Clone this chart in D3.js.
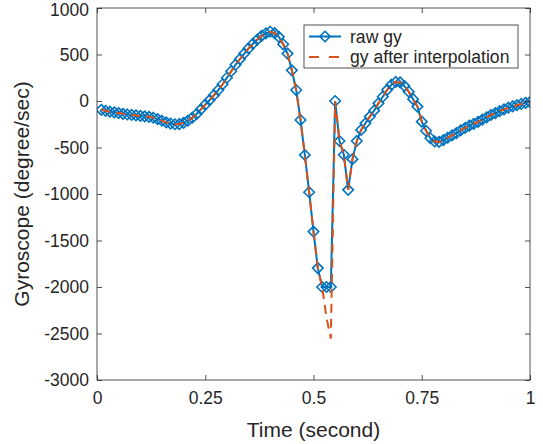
<!DOCTYPE html>
<html>
<head>
<meta charset="utf-8">
<script src="https://cdn.jsdelivr.net/npm/d3@7"></script>
<style>
  body { margin: 0; background: #fff; }
  text { font-family: "Liberation Sans", Arial, Helvetica, sans-serif; fill: #262626; }
</style>
</head>
<body>
<svg id="chart" width="543" height="444"></svg>
<script>
// Time stamps (second), 100 Hz samples
const time = [
  0.01, 0.02, 0.03, 0.04, 0.05, 0.06, 0.07, 0.08, 0.09, 0.10,
  0.11, 0.12, 0.13, 0.14, 0.15, 0.16, 0.17, 0.18, 0.19, 0.20,
  0.21, 0.22, 0.23, 0.24, 0.25, 0.26, 0.27, 0.28, 0.29, 0.30,
  0.31, 0.32, 0.33, 0.34, 0.35, 0.36, 0.37, 0.38, 0.39, 0.40,
  0.41, 0.42, 0.43, 0.44, 0.45, 0.46, 0.47, 0.48, 0.49, 0.50,
  0.51, 0.52, 0.53, 0.54, 0.55, 0.56, 0.57, 0.58, 0.59, 0.60,
  0.61, 0.62, 0.63, 0.64, 0.65, 0.66, 0.67, 0.68, 0.69, 0.70,
  0.71, 0.72, 0.73, 0.74, 0.75, 0.76, 0.77, 0.78, 0.79, 0.80,
  0.81, 0.82, 0.83, 0.84, 0.85, 0.86, 0.87, 0.88, 0.89, 0.90,
  0.91, 0.92, 0.93, 0.94, 0.95, 0.96, 0.97, 0.98, 0.99, 1.00
];

// raw gyroscope y (degree/sec), saturated at -2000
const rawGy = [
  -95, -105, -115, -122, -130, -138, -145, -150, -155, -160,
  -165, -170, -180, -195, -212, -230, -242, -250, -248, -235,
  -212, -180, -140, -90, -40, 10, 62, 118, 180, 250,
  320, 390, 450, 510, 565, 615, 660, 700, 728, 745,
  730, 690, 610, 510, 330, 118, -204, -580, -981, -1404,
  -1797, -2000, -2000, -2000, 0, -430, -578, -955, -625, -430,
  -311, -240, -168, -104, -25, 46, 120, 175, 205, 200,
  160, 100, 20, -60, -222, -320, -400, -435, -440, -420,
  -395, -370, -345, -315, -290, -265, -245, -225, -200, -175,
  -150, -130, -110, -90, -72, -58, -45, -32, -20, -12
];

// gyroscope y after interpolation of the saturated part
const interpGy = [
  -95, -105, -115, -122, -130, -138, -145, -150, -155, -160,
  -165, -170, -180, -195, -212, -230, -242, -250, -248, -235,
  -212, -180, -140, -90, -40, 10, 62, 118, 180, 250,
  320, 390, 450, 510, 565, 615, 660, 700, 728, 745,
  730, 690, 610, 510, 330, 118, -204, -580, -981, -1404,
  -1797, -2000, -2330, -2555, 0, -430, -578, -955, -625, -430,
  -311, -240, -168, -104, -25, 46, 120, 175, 205, 200,
  160, 100, 20, -60, -222, -320, -400, -435, -440, -420,
  -395, -370, -345, -315, -290, -265, -245, -225, -200, -175,
  -150, -130, -110, -90, -72, -58, -45, -32, -20, -12
];

const xTicks = [0, 0.25, 0.5, 0.75, 1];
const xTickLabels = ['0', '0.25', '0.5', '0.75', '1'];
const yTicks = [1000, 500, 0, -500, -1000, -1500, -2000, -2500, -3000];
const legendLabels = ['raw gy', 'gy after interpolation'];

const blue = '#0072BD';
const orange = '#D95319';
const axisColor = '#262626';

const svg = d3.select('#chart');
const plotLeft = 97, plotRight = 530, plotTop = 8, plotBottom = 380;

const x = d3.scaleLinear().domain([0, 1]).range([plotLeft, plotRight]);
const y = d3.scaleLinear().domain([-3000, 1000]).range([plotBottom, plotTop]);

// Zip the arrays into point lists
const rawPts = time.map((t, i) => ({ t: t, v: rawGy[i] }));
const interpPts = time.map((t, i) => ({ t: t, v: interpGy[i] }));

svg.append('defs').append('clipPath').attr('id', 'plotclip')
  .append('rect')
  .attr('x', plotLeft).attr('y', plotTop)
  .attr('width', plotRight - plotLeft).attr('height', plotBottom - plotTop);

const line = d3.line().x(d => x(d.t)).y(d => y(d.v));

const plot = svg.append('g').attr('clip-path', 'url(#plotclip)');

// raw gy: solid line with hollow diamonds
plot.append('path')
  .datum(rawPts)
  .attr('d', line)
  .attr('fill', 'none')
  .attr('stroke', blue)
  .attr('stroke-width', 2);

const diamond = d3.symbol().type(d3.symbolDiamond2).size(70);

plot.selectAll('path.marker')
  .data(rawPts)
  .enter()
  .append('path')
  .attr('class', 'marker')
  .attr('d', diamond)
  .attr('transform', d => `translate(${x(d.t)},${y(d.v)})`)
  .attr('fill', 'none')
  .attr('stroke', blue)
  .attr('stroke-width', 1.6);

// interpolated gy: dashed line on top
plot.append('path')
  .datum(interpPts)
  .attr('d', line)
  .attr('fill', 'none')
  .attr('stroke', orange)
  .attr('stroke-width', 2)
  .attr('stroke-dasharray', '9,6');

// Axes, ticks pointing inward on all four sides
function styleAxis(g) {
  g.select('.domain').remove();
  g.selectAll('line').attr('stroke', axisColor).attr('stroke-width', 0.8);
  g.selectAll('text').style('font-size', '17.5px').attr('fill', axisColor);
}

svg.append('g')
  .attr('transform', `translate(0,${plotBottom})`)
  .call(d3.axisBottom(x).tickValues(xTicks)
    .tickFormat((d, i) => xTickLabels[i]).tickSize(-5).tickPadding(12))
  .call(styleAxis);

svg.append('g')
  .attr('transform', `translate(0,${plotTop})`)
  .call(d3.axisTop(x).tickValues(xTicks).tickFormat('').tickSize(-5))
  .call(styleAxis);

const yAxisG = svg.append('g')
  .attr('transform', `translate(${plotLeft},0)`)
  .call(d3.axisLeft(y).tickValues(yTicks).tickFormat(d => String(d))
    .tickSize(-5).tickPadding(8))
  .call(styleAxis);

// keep the top label inside the page
yAxisG.selectAll('.tick text').filter(d => d === 1000).attr('dy', '0.45em');

svg.append('g')
  .attr('transform', `translate(${plotRight},0)`)
  .call(d3.axisRight(y).tickValues(yTicks).tickFormat('').tickSize(-5))
  .call(styleAxis);

svg.append('rect')
  .attr('x', plotLeft).attr('y', plotTop)
  .attr('width', plotRight - plotLeft).attr('height', plotBottom - plotTop)
  .attr('fill', 'none')
  .attr('stroke', axisColor)
  .attr('stroke-width', 0.8);

// Axis labels
svg.append('text')
  .attr('x', (plotLeft + plotRight) / 2)
  .attr('y', 437)
  .attr('text-anchor', 'middle')
  .style('font-size', '21px')
  .text('Time (second)');

svg.append('text')
  .attr('transform', `translate(29,${(plotTop + plotBottom) / 2}) rotate(-90)`)
  .attr('text-anchor', 'middle')
  .style('font-size', '21px')
  .text('Gyroscope (degree/sec)');

// Legend
const legend = svg.append('g');
legend.append('rect')
  .attr('x', 304).attr('y', 25)
  .attr('width', 214).attr('height', 43)
  .attr('fill', '#fff')
  .attr('stroke', axisColor)
  .attr('stroke-width', 0.8);

const rowY = [36.5, 57];

legend.append('line')
  .attr('x1', 309).attr('x2', 341)
  .attr('y1', rowY[0]).attr('y2', rowY[0])
  .attr('stroke', blue).attr('stroke-width', 2);
legend.append('path')
  .attr('d', diamond)
  .attr('transform', `translate(325,${rowY[0]})`)
  .attr('fill', 'none')
  .attr('stroke', blue)
  .attr('stroke-width', 1.6);

legend.append('line')
  .attr('x1', 309).attr('x2', 341)
  .attr('y1', rowY[1]).attr('y2', rowY[1])
  .attr('stroke', orange).attr('stroke-width', 2)
  .attr('stroke-dasharray', '10,10');

legend.selectAll('text.leg')
  .data(legendLabels)
  .enter()
  .append('text')
  .attr('class', 'leg')
  .attr('x', 350)
  .attr('y', (d, i) => rowY[i])
  .attr('dy', '0.35em')
  .style('font-size', '17.6px')
  .text(d => d);
</script>
</body>
</html>
